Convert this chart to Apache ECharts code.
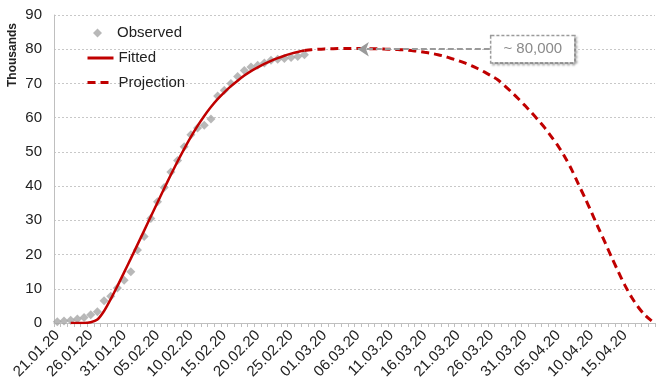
<!DOCTYPE html>
<html>
<head>
<meta charset="utf-8">
<script src="https://cdn.jsdelivr.net/npm/echarts@6/dist/echarts.min.js"></script>
<style>
  html, body { margin: 0; padding: 0; background: #fff; }
  #chart { width: 659px; height: 385px; }
</style>
</head>
<body>
<div id="chart"></div>
<script>
// Daily axis: 21.01.20 .. 19.04.20 (90 days)
const firstDay = new Date(2020, 0, 21);
const dayCount = 90;
const categories = [];
for (let d = 0; d < dayCount; d++) {
  const t = new Date(firstDay.getFullYear(), firstDay.getMonth(), firstDay.getDate() + d);
  const dd = String(t.getDate()).padStart(2, '0');
  const mm = String(t.getMonth() + 1).padStart(2, '0');
  categories.push(dd + '.' + mm + '.20');
}

// Cumulative cases, thousands (from 21.01.20)
const observed = [0.4, 0.6, 0.8, 1.2, 1.6, 2.4, 3.3, 6.5, 7.8, 10.2,
  12.5, 15.0, 21.3, 25.3, 30.5, 35.4, 39.6, 44.1, 47.5, 51.5,
  55.0, 57.0, 57.8, 59.6, 66.3, 68.0, 70.0, 72.0, 73.8, 74.8,
  75.3, 76.0, 76.8, 77.1, 77.3, 77.6, 77.9, 78.4];

// Fitted curve, starting at 23.01.20
const fittedStart = 2;
const fitted = [0, 0, 0, 0.2, 1.0, 3.5, 7.0, 10.8, 14.8, 18.8,
  22.9, 27.0, 31.1, 35.2, 39.3, 43.3, 47.2, 50.9, 54.4, 57.6,
  60.5, 63.1, 65.4, 67.4, 69.2, 70.8, 72.3, 73.6, 74.7, 75.7,
  76.6, 77.4, 78.1, 78.7, 79.2, 79.6];

// Projection, starting at 27.02.20
const projectionStart = 37;
const projection = [79.6, 79.85, 80.0, 80.1, 80.15, 80.2, 80.2, 80.2, 80.2, 80.2,
  80.15, 80.1, 80.05, 80.0, 79.9, 79.8, 79.6, 79.4, 79.1, 78.8,
  78.4, 77.9, 77.3, 76.7, 76.0, 75.2, 74.3, 73.3, 72.2, 71.0,
  69.3, 67.5, 65.6, 63.6, 61.5, 59.3, 57.0, 54.4, 51.7, 48.5,
  44.9, 40.7, 36.6, 32.3, 27.9, 23.6, 19.2, 15.0, 11.0, 7.5,
  4.6, 2.3, 0.6];

const yTicks = { min: 0, max: 90, interval: 10 };

// Plateau annotation
const plateauLabel = '~ 80,000';
const plateauValue = 80;
const arrowFrom = '06.03.20';
const arrowTo = '26.03.20';

function placeOnAxis(values, start) {
  const out = new Array(dayCount).fill(null);
  values.forEach((v, i) => { out[start + i] = v; });
  return out;
}

const RED = '#c00000';
const GREY = '#a6a6a6';
const FONT = 'Liberation Sans, Arial, sans-serif';
const legendText = { fontFamily: FONT, fontSize: 15, color: '#222' };

const chart = echarts.init(document.getElementById('chart'), null, { renderer: 'canvas' });
chart.setOption({
  animation: false,
  grid: { left: 54, right: 4, top: 15, bottom: 62 },
  legend: [
    {
      padding: 0,
      left: 93,
      top: 25.5,
      itemWidth: 9,
      itemHeight: 9,
      data: [{ name: 'Observed', icon: 'diamond' }],
      formatter: name => '{t|' + name + '}',
      textStyle: Object.assign({}, legendText, {
        rich: { t: Object.assign({}, legendText, { padding: [0, 0, 0, 10] }) }
      })
    },
    {
      padding: 0,
      orient: 'vertical',
      left: 86,
      top: 50.5,
      itemWidth: 26,
      itemHeight: 14,
      itemGap: 9.5,
      itemStyle: { opacity: 0 },
      lineStyle: { width: 3 },
      data: ['Fitted', 'Projection'],
      textStyle: legendText
    }
  ],
  graphic: [{
    type: 'text',
    x: 13,
    y: 55,
    rotation: Math.PI / 2,
    style: {
      text: 'Thousands',
      fontFamily: FONT,
      fontSize: 12,
      fontWeight: 'bold',
      fill: '#222',
      align: 'center',
      verticalAlign: 'middle'
    }
  }],
  xAxis: {
    type: 'category',
    data: categories,
    boundaryGap: true,
    axisLine: { lineStyle: { color: '#bfbfbf', width: 1 } },
    axisTick: { show: true, interval: 0, length: 4, lineStyle: { color: '#bfbfbf' } },
    axisLabel: {
      interval: 4,
      rotate: 45,
      margin: 10,
      fontFamily: FONT,
      fontSize: 15,
      color: '#222'
    },
    splitLine: { show: false }
  },
  yAxis: {
    type: 'value',
    min: yTicks.min,
    max: yTicks.max,
    interval: yTicks.interval,
    axisLine: { show: true, lineStyle: { color: '#bfbfbf' } },
    axisTick: { show: false },
    axisLabel: { margin: 12, fontFamily: FONT, fontSize: 15, color: '#222' },
    splitLine: { lineStyle: { color: '#c8c8c8', type: [2, 2], width: 1 } }
  },
  series: [
    {
      name: 'Observed',
      type: 'scatter',
      symbol: 'diamond',
      symbolSize: 9,
      itemStyle: { color: GREY },
      data: placeOnAxis(observed, 0),
      z: 2
    },
    {
      name: 'Fitted',
      type: 'line',
      symbol: 'none',
      smooth: 0.3,
      lineStyle: { color: RED, width: 2.5 },
      itemStyle: { color: RED },
      data: placeOnAxis(fitted, fittedStart),
      z: 3
    },
    {
      name: 'Projection',
      type: 'line',
      symbol: 'none',
      smooth: 0.3,
      lineStyle: { color: RED, width: 3, type: [8, 5] },
      itemStyle: { color: RED },
      data: placeOnAxis(projection, projectionStart),
      z: 3,
      markLine: {
        silent: true,
        symbol: ['arrow', 'none'],
        symbolSize: 11,
        lineStyle: { color: '#9a9a9a', type: [6, 3], width: 2 },
        emphasis: { disabled: true },
        label: {
          show: true,
          position: 'end',
          distance: 0,
          formatter: plateauLabel,
          fontFamily: FONT,
          fontSize: 15,
          color: '#8a8a8a',
          backgroundColor: '#fff',
          borderColor: '#9a9a9a',
          borderWidth: 1.5,
          borderType: [3, 2],
          padding: [6, 12, 5, 12],
          shadowColor: 'rgba(0,0,0,0.25)',
          shadowBlur: 2,
          shadowOffsetX: 2,
          shadowOffsetY: 2
        },
        data: [[
          { coord: [arrowFrom, plateauValue] },
          { coord: [arrowTo, plateauValue] }
        ]]
      }
    }
  ]
});
</script>
</body>
</html>
